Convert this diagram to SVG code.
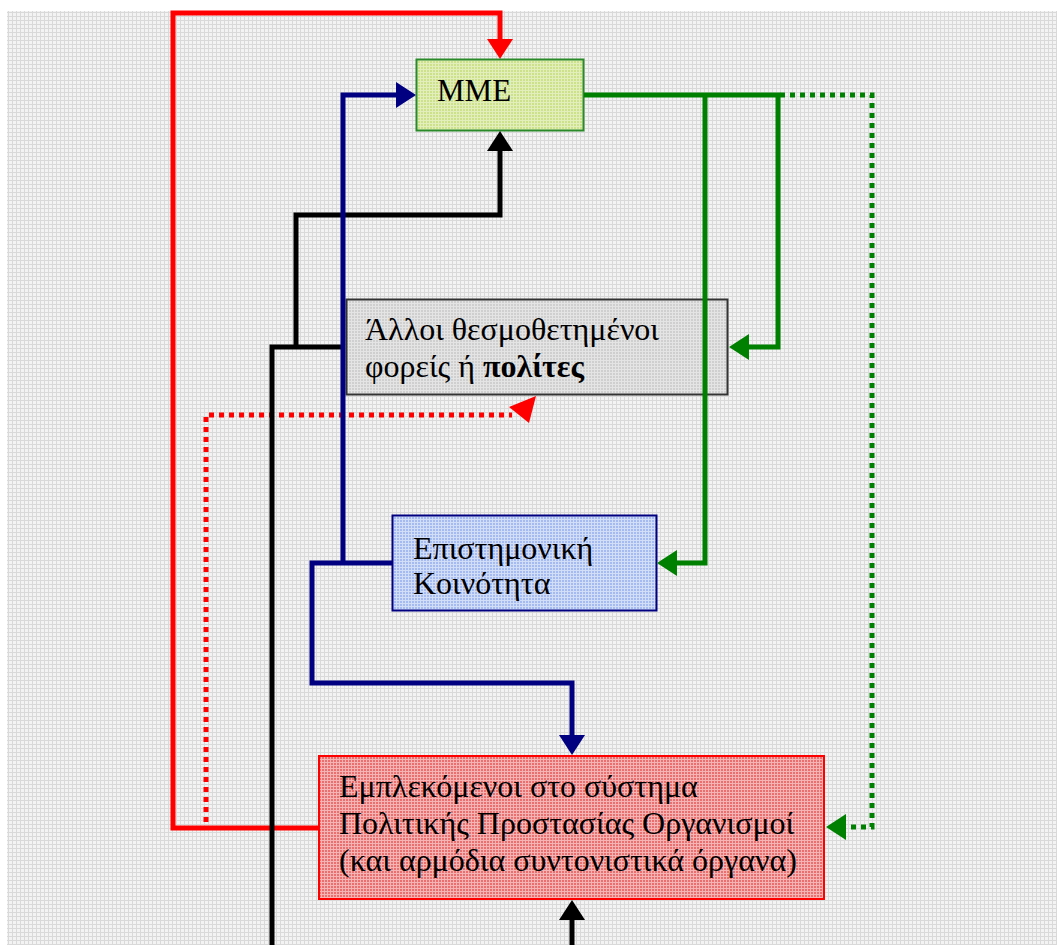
<svg xmlns="http://www.w3.org/2000/svg" width="1057" height="945" viewBox="0 0 1057 945">
  <defs>
    <!-- textured fills -->
    <pattern id="bgGrid" width="4" height="4" patternUnits="userSpaceOnUse">
      <rect width="4" height="4" fill="#f3f3f3"/>
      <rect width="4" height="1" fill="#d9d9d9"/>
      <rect width="1" height="4" fill="#d9d9d9"/>
    </pattern>
    <pattern id="fillGreen" width="3" height="3" patternUnits="userSpaceOnUse">
      <rect width="3" height="3" fill="#cde18a"/>
      <rect width="3" height="1" fill="#e3eebd"/>
      <rect width="1" height="3" fill="#e3eebd"/>
    </pattern>
    <pattern id="fillGray" width="3" height="3" patternUnits="userSpaceOnUse">
      <rect width="3" height="3" fill="#cfcfcf"/>
      <rect width="3" height="1" fill="#e4e4e4"/>
      <rect width="1" height="3" fill="#e4e4e4"/>
    </pattern>
    <pattern id="fillBlue" width="3" height="3" patternUnits="userSpaceOnUse">
      <rect width="3" height="3" fill="#a5baf0"/>
      <rect width="3" height="1" fill="#d2ddf8"/>
      <rect width="1" height="3" fill="#d2ddf8"/>
    </pattern>
    <pattern id="fillRed" width="3" height="3" patternUnits="userSpaceOnUse">
      <rect width="3" height="3" fill="#ea7070"/>
      <rect width="3" height="1" fill="#f6b4b4"/>
      <rect width="1" height="3" fill="#f6b4b4"/>
    </pattern>
    <!-- arrowheads: base sits at the line end, tip 20px beyond -->
    <marker id="arrRed" markerUnits="userSpaceOnUse" markerWidth="22" markerHeight="28" viewBox="0 -14 22 28" refX="0" refY="0" orient="auto">
      <path d="M0,-13 L20,0 L0,13 Z" fill="#ff0000"/>
    </marker>
    <marker id="arrBlue" markerUnits="userSpaceOnUse" markerWidth="22" markerHeight="28" viewBox="0 -14 22 28" refX="0" refY="0" orient="auto">
      <path d="M0,-13 L20,0 L0,13 Z" fill="#000080"/>
    </marker>
    <marker id="arrBlack" markerUnits="userSpaceOnUse" markerWidth="22" markerHeight="28" viewBox="0 -14 22 28" refX="0" refY="0" orient="auto">
      <path d="M0,-13 L20,0 L0,13 Z" fill="#000000"/>
    </marker>
    <marker id="arrGreen" markerUnits="userSpaceOnUse" markerWidth="22" markerHeight="28" viewBox="0 -14 22 28" refX="0" refY="0" orient="auto">
      <path d="M0,-13 L20,0 L0,13 Z" fill="#008000"/>
    </marker>
  </defs>
  <style>
    .wire { fill: none; stroke-width: 5; stroke-linejoin: miter; stroke-linecap: butt; }
    .red { stroke: #ff0000; }
    .blue { stroke: #000080; }
    .black { stroke: #000000; }
    .green { stroke: #008000; }
    .dots { stroke-dasharray: 5 5; }
    .label { font-family: "Liberation Serif", "Times New Roman", serif; font-size: 32px; fill: #000000; }
    .strong { font-weight: bold; }
  </style>

  <!-- page background -->
  <rect width="1057" height="945" fill="#ffffff"/>
  <rect x="7" y="11" width="1050" height="934" fill="url(#bgGrid)"/>

  <!-- nodes -->
  <g id="node-mme">
    <rect x="416.5" y="59.5" width="167" height="71" fill="url(#fillGreen)" stroke="#2a8a2a" stroke-width="2"/>
    <text class="label" x="437" y="101" style="font-size:31px">MME</text>
  </g>

  <g id="node-alloi">
    <rect x="346.5" y="299.5" width="381" height="95" fill="url(#fillGray)" stroke="#333333" stroke-width="2"/>
    <text class="label" x="365" y="340">Άλλοι θεσμοθετημένοι</text>
    <text class="label" x="365" y="377">φορείς ή <tspan class="strong">πολίτες</tspan></text>
  </g>

  <g id="node-episthmoniki">
    <rect x="392.5" y="515.5" width="264" height="95" fill="url(#fillBlue)" stroke="#000080" stroke-width="2"/>
    <text class="label" x="413" y="559">Επιστημονική</text>
    <text class="label" x="413" y="594">Κοινότητα</text>
  </g>

  <g id="node-emplekomenoi">
    <rect x="319" y="756" width="505" height="143" fill="url(#fillRed)" stroke="#ff0000" stroke-width="2"/>
    <text class="label" x="339" y="797">Εμπλεκόμενοι στο σύστημα</text>
    <text class="label" x="339" y="834">Πολιτικής Προστασίας Οργανισμοί</text>
    <text class="label" x="339" y="871">(και αρμόδια συντονιστικά όργανα)</text>
  </g>

  <!-- connectors -->
  <g id="connectors">
    <!-- red: from the civil-protection bodies round to MME -->
    <path class="wire red" d="M320,828 H173 V13 H500 V39" marker-end="url(#arrRed)"/>
    <!-- red dotted: civil-protection bodies to other bodies / citizens -->
    <path class="wire red dots" d="M206,822 V415 H512"/>
    <polygon points="536,396 509,407 529,423" fill="#ff0000"/>

    <!-- black: feeds into MME and into the civil-protection bodies -->
    <path class="wire black" d="M272,945 V347 H344"/>
    <path class="wire black" d="M296,347 V215 H500 V151" marker-end="url(#arrBlack)"/>
    <path class="wire black" d="M572,945 V920" marker-end="url(#arrBlack)"/>

    <!-- blue: scientific community to MME and to the civil-protection bodies -->
    <path class="wire blue" d="M343,563 V95 H396" marker-end="url(#arrBlue)"/>
    <path class="wire blue" d="M392,563 H312 V683 H572 V735" marker-end="url(#arrBlue)"/>

    <!-- green: MME outputs -->
    <path class="wire green" d="M584,95 H778 V347 H749" marker-end="url(#arrGreen)"/>
    <path class="wire green" d="M705,95 V563 H677" marker-end="url(#arrGreen)"/>
    <path class="wire green dots" d="M780,95 H872 V827 H846" marker-end="url(#arrGreen)"/>
  </g>
</svg>
